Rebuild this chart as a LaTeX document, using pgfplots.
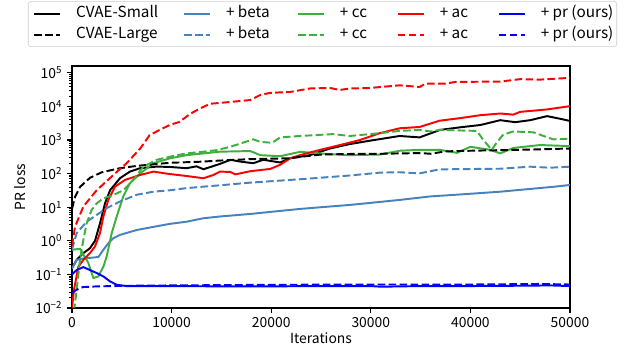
\documentclass[border=0pt]{standalone}
\usepackage{fontspec}
\setmainfont{Noto Sans CJK JP}
\usepackage{pgfplots}
\usepackage{pgfplotstable}
\pgfplotsset{compat=1.18}
\definecolor{cbeta}{RGB}{70,130,190}
\definecolor{ccc}{RGB}{60,175,60}
\definecolor{cac}{RGB}{255,0,0}
\definecolor{cpr}{RGB}{0,0,255}

\pgfplotstableread{
x y
0 0.155
470 0.27
1140 0.43
1800 0.6
2310 1.0
2810 3.3
3310 13
3820 32
4820 73
5820 115
6830 145
8500 162
9840 158
11500 145
12500 165
13200 135
14860 195
15900 258
16900 228
18200 204
19200 258
20900 215
21900 286
23900 355
25900 560
27900 760
29900 955
32900 1320
34900 1200
36950 2000
39000 2400
41000 2800
43000 3900
44500 3400
46000 3900
47700 5150
49000 4300
50000 3700
}\smallS
\pgfplotstableread{
x y
0 9
300 20
800 40
1800 75
3000 110
4800 145
6500 170
9800 210
12850 226
14860 245
17900 270
21900 286
22900 316
25000 370
28000 385
31000 390
33000 400
35000 410
36000 390
37500 460
40000 480
43000 500
46000 520
50000 560
}\largeS
\pgfplotstableread{
x y
0 0.15
470 0.27
1140 0.3
1800 0.31
2650 0.33
3150 0.54
3650 0.85
4150 1.2
4820 1.5
6500 2.1
8170 2.6
9840 3.2
11500 3.7
13200 4.7
14860 5.3
17900 6.3
20000 7.3
22900 8.9
25000 10
27900 11.7
30000 13.5
32900 16.5
36000 21
39000 24
43000 29
46000 35
48500 41
50000 46
}\betaS
\pgfplotstableread{
x y
0 0.55
470 1.7
1470 3.7
2480 5.9
3480 9.4
4820 14.8
6500 23.5
8170 29
9840 32
11500 37
13200 41
14860 45
17900 54
22900 68
27900 88
30900 107
32900 110
34900 102
36900 134
43000 140
46000 161
48000 150
50000 161
}\betaL
\pgfplotstableread{
x y
0 0.54
800 0.58
1640 0.22
2140 0.078
2650 0.087
3150 0.17
3480 0.34
3990 1.7
4490 5.3
5150 21
5820 52
6830 100
8170 205
9840 286
11510 355
13200 400
14860 450
17900 470
18900 355
20900 330
22900 445
25900 380
27900 355
30900 370
32900 480
34900 510
36950 510
38650 415
40000 630
42000 510
43000 400
44300 580
47000 710
50000 660
}\ccS
\pgfplotstableread{
x y
200 0.008
470 0.035
800 0.27
1140 1.07
1470 3.3
1970 8.3
2480 13
3150 18.5
4150 23
5150 32
6160 65
7160 161
8500 258
9840 320
11500 400
13200 450
14500 500
15900 630
18200 1050
18900 880
20100 830
20900 1200
22900 1320
26200 1500
27900 1320
30900 1600
32900 1870
34900 2000
36000 1800
36900 2000
40650 1870
41300 1000
42150 510
42600 810
43300 1450
44300 1800
46300 1700
48300 1050
50000 1100
}\ccL
\pgfplotstableread{
x y
0 0.01
200 0.035
640 0.17
1140 0.27
1800 0.43
2310 0.68
2810 1.7
3150 5.3
3650 16.6
4320 41
5320 65
6830 91
8170 115
9500 100
11510 85
13190 73
14190 91
14860 115
15900 112
16400 95
17900 118
19900 138
20900 183
21900 286
22900 355
24900 510
26900 710
28900 1000
30900 1600
32900 2240
34900 2450
36900 3760
39000 4500
41000 5500
43000 6170
44300 5700
45000 6900
47700 8150
50000 10200
}\acS
\pgfplotstableread{
x y
0 0.7
300 2.6
1140 10.5
2480 32
4150 91
5490 205
6830 550
7800 1400
8800 2000
9800 2800
10800 3470
11850 6000
12850 8700
13860 12000
15900 13600
17900 15500
18900 21900
19900 25400
21900 27000
23900 34300
25900 35500
26900 31000
27900 34300
29900 35500
32900 42600
34900 38000
35500 48000
37500 48000
38500 53700
43000 55000
45000 65000
47000 63000
50000 71000
}\acL
\pgfplotstableread{
x y
0 0.1
470 0.135
1140 0.165
1800 0.135
2480 0.11
3150 0.087
3820 0.062
4490 0.049
5490 0.045
10000 0.045
15000 0.044
20000 0.044
25000 0.045
30000 0.045
31000 0.043
35000 0.045
40000 0.045
45000 0.046
48000 0.047
50000 0.045
}\prS
\pgfplotstableread{
x y
0 0.028
470 0.035
1100 0.042
2500 0.044
6000 0.046
10000 0.047
20000 0.049
30000 0.05
40000 0.05
47000 0.052
50000 0.05
}\prL

\begin{document}
\begin{tikzpicture}
\path[use as bounding box] (-51.84pt,-31.68pt) rectangle (397.44pt,221.76pt);
\begin{axis}[
  scale only axis,
  width=358.56pt, height=174.24pt,
  ymode=log,
  xmin=0, xmax=50000,
  ymin=1e-2, ymax=1.6e5,
  scaled x ticks=false,
  xtick={0,10000,20000,30000,40000,50000},
  xticklabels={0,10000,20000,30000,40000,50000},
  ytick={1e-2,1e-1,1,10,100,1000,10000,100000},
  yticklabels={10\textsuperscript{−2},10\textsuperscript{−1},10\textsuperscript{0},10\textsuperscript{1},10\textsuperscript{2},10\textsuperscript{3},10\textsuperscript{4},10\textsuperscript{5}},
  minor ytick={2e-2,3e-2,4e-2,5e-2,6e-2,7e-2,8e-2,9e-2,0.2,0.3,0.4,0.5,0.6,0.7,0.8,0.9,2,3,4,5,6,7,8,9,20,30,40,50,60,70,80,90,200,300,400,500,600,700,800,900,2000,3000,4000,5000,6000,7000,8000,9000,20000,30000,40000,50000,60000,70000,80000,90000},
  tick align=outside,
  xtick pos=bottom, ytick pos=left,
  major tick length=3.5pt, minor tick length=2pt,
  every tick/.style={black, line width=0.8pt},
  minor tick style={line width=0.6pt},
  axis line style={line width=0.8pt},
  tick label style={font=\fontsize{10}{12}\selectfont},
  label style={font=\fontsize{10}{12}\selectfont},
  xlabel={Iterations},
  ylabel={PR loss},
  xlabel style={at={(axis description cs:0.5,-0.124)}, anchor=center},
  ylabel style={at={(axis description cs:-0.1043,0.5)}, anchor=center},
  legend columns=5,
  legend image code/.code={\draw[#1] (0pt,0pt) -- (18.7pt,0pt);},
  legend style={at={(0.503,1.0785)}, anchor=south, draw=black!20, rounded corners=2pt,
    font=\fontsize{11}{13}\selectfont, inner xsep=3.6pt, inner ysep=3.6pt,
    nodes={inner sep=0pt, text height=8pt, text depth=2.2pt},
    /tikz/every odd column/.append style={column sep=10.8pt},
    /tikz/every even column/.append style={column sep=0pt},
    row sep=5pt},
  legend cell align=left,
  every axis plot/.append style={line width=1.4pt},
]
\addplot[black] table {\smallS};
\addlegendentry{\makebox[77pt][l]{CVAE-Small}}
\addplot[cbeta] table {\betaS};
\addlegendentry{\makebox[51.1pt][l]{+ beta}}
\addplot[ccc] table {\ccS};
\addlegendentry{\makebox[41pt][l]{+ cc}}
\addplot[cac] table {\acS};
\addlegendentry{\makebox[41.8pt][l]{+ ac}}
\addplot[cpr] table {\prS};
\addlegendentry{\makebox[51.1pt][l]{+ pr (ours)}}
\addplot[black, dash pattern=on 5.5pt off 2.4pt] table {\largeS};
\addlegendentry{\makebox[77pt][l]{CVAE-Large}}
\addplot[cbeta, dash pattern=on 5.5pt off 2.4pt] table {\betaL};
\addlegendentry{\makebox[51.1pt][l]{+ beta}}
\addplot[ccc, dash pattern=on 5.5pt off 2.4pt] table {\ccL};
\addlegendentry{\makebox[41pt][l]{+ cc}}
\addplot[cac, dash pattern=on 5.5pt off 2.4pt] table {\acL};
\addlegendentry{\makebox[41.8pt][l]{+ ac}}
\addplot[cpr, dash pattern=on 5.5pt off 2.4pt] table {\prL};
\addlegendentry{\makebox[51.1pt][l]{+ pr (ours)}}
\end{axis}
\end{tikzpicture}
\end{document}
